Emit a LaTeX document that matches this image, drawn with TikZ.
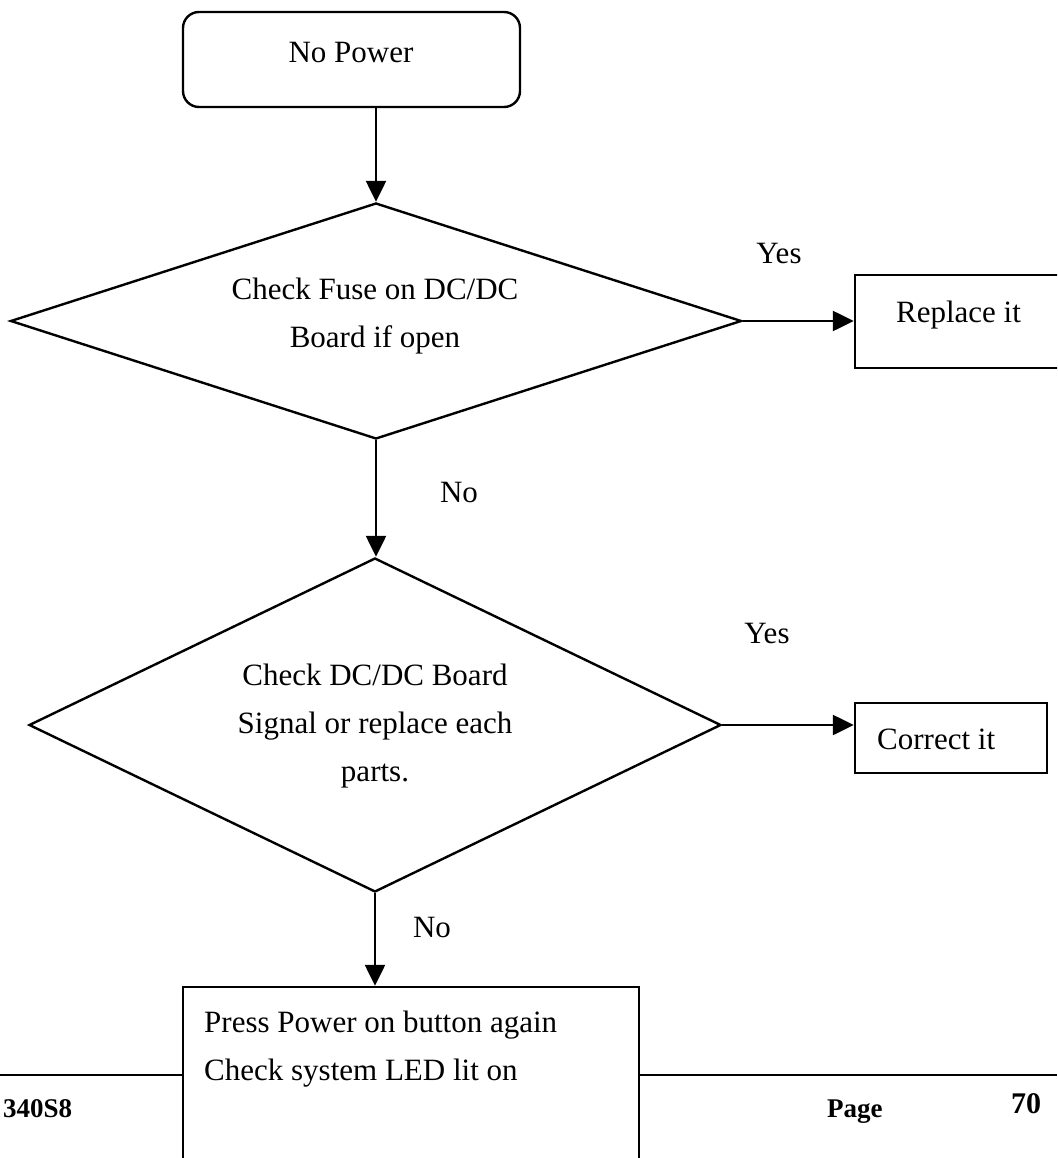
\documentclass[tikz,border=0pt]{standalone}
\usepackage{fontspec}
\setmainfont{Liberation Serif}
\usetikzlibrary{shapes.geometric,arrows.meta,positioning}

\begin{document}
\begin{tikzpicture}[x=1pt, y=-1pt, line width=2.4pt,
  box/.style={draw, rectangle, inner sep=0pt},
  decision/.style={draw, diamond, inner sep=0pt, aspect=3},
  txt/.style={inner sep=0pt, font=\fontsize{31}{48}\selectfont},
  foot/.style={inner sep=0pt, font=\fontsize{27}{30}\selectfont\bfseries},
  flow/.style={-{Triangle[length=21pt, width=20pt]}}]
  \clip (0,0) rectangle (1057,1158);
  % ---- boxes and decisions ----
  \node[box, rounded corners=16pt, minimum width=337pt, minimum height=95pt] (power) at (351.5,59.5) {};
  \node[decision, minimum width=731pt, minimum height=236pt] (fuse) at (376,321) {};
  \node[decision, minimum width=692pt, minimum height=334pt] (board) at (375,725) {};
  \node[box, minimum width=207pt, minimum height=93pt] (replace) at (958.5,321.5) {};
  \node[box, minimum width=192pt, minimum height=70pt] (correct) at (951,738) {};
  \node[box, minimum width=456pt, minimum height=178pt] (press) at (411,1076) {};
  % ---- texts ----
  \node[txt, anchor=base] (powertxt) at (351,63) {No Power};
  \node[txt, align=center] (fusetxt) at (375,315.6) {Check Fuse on DC/DC\\Board if open};
  \node[txt, align=center] (boardtxt) at (375,725.6) {Check DC/DC Board\\Signal or replace each\\parts.};
  \node[txt, anchor=base] (replacetxt) at (958.5,322) {Replace it};
  \node[txt, anchor=base west] (correcttxt) at (876,749) {Correct it};
  \node[txt, align=left, anchor=west] (presstxt) at (203,1049) {Press Power on button again\\Check system LED lit on};
  % ---- flow ----
  \draw[flow] (power.south -| fuse.north) -- (fuse.north);
  \draw[flow] (fuse.east) -- (fuse.east -| replace.west);
  \draw[flow] (fuse.south) -- (fuse.south |- board.north);
  \draw[flow] (board.east) -- (board.east -| correct.west);
  \draw[flow] (board.south) -- (board.south |- press.north);
  \node[txt, anchor=base] (yes1) at (779,263) {Yes};
  \node[txt, anchor=base] (no1) at (459,502) {No};
  \node[txt, anchor=base] (yes2) at (767,643) {Yes};
  \node[txt, anchor=base] (no2) at (432,937) {No};
  % ---- page footer ----
  \coordinate (ruleL) at (0,1075);
  \coordinate (ruleR) at (1057,1075);
  \draw (ruleL) -- (ruleL -| press.west);
  \draw (press.east |- ruleR) -- (ruleR);
  \node[foot, anchor=base west] (model) at (2,1117) {340S8};
  \node[foot, anchor=base west] (pagelbl) at (826,1117) {Page};
  \node[foot, font=\fontsize{30}{32}\selectfont\bfseries, anchor=base west] (pagenum) at (1010,1113) {70};
\end{tikzpicture}
\end{document}
